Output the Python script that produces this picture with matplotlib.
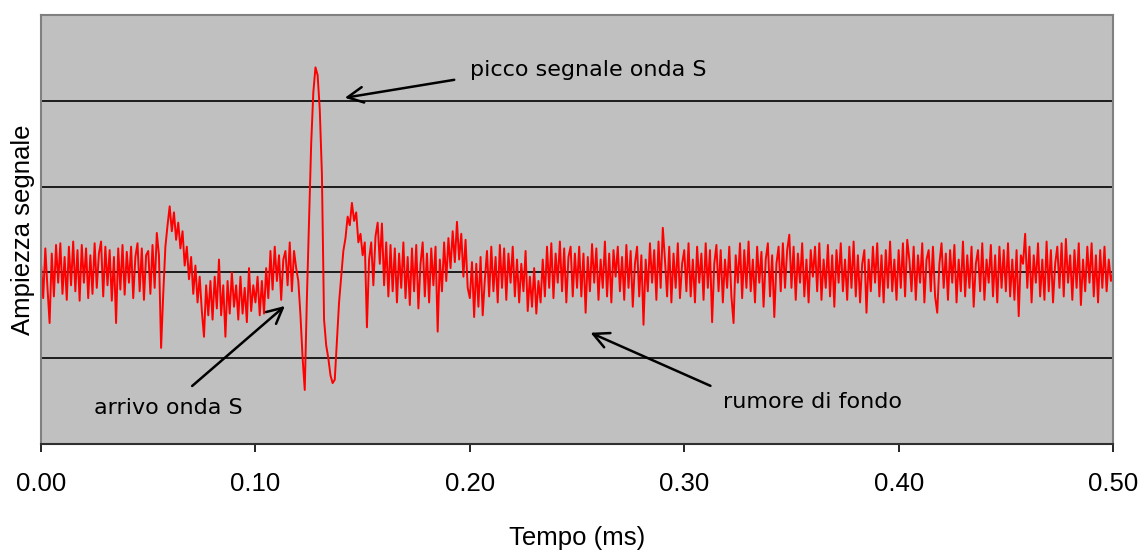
import numpy as np
import matplotlib
matplotlib.use("Agg")
import matplotlib.pyplot as plt

# signal samples, one every 0.001 ms, amplitude in hundredths of a grid step
step_ms = 0.001
noise_start = [10, -30, 28, -18, -59, 22, -28, 32, -12, 34, -25, 18, -32, 30, -15, 36, -22, 26, -33, 32,
               -12, 28, -30, 20, -25, 34, -18, 22, 36, -28, 30, -15, 26, -33, 18, -59, 28, -20, 32, -26,
               24, -12, 30, -30, 18, 34, -22, 28, -32, 20]
p_wave = [25, -25, 32, -18, 46, 20, -88, -25, 30, 55, 77, 48, 70, 38, 58, 28, 48, 8, 30, -8,
          18, -25, 8, -35, -5, -45, -75, -15, -50, -10, -55, -5, -42, 15, -50, -15, -75, -10, -48, 0,
          -40, -15, -55, -5, -48, -18, -58, 5, -45, -15]
s_wave = [-35, -5, -50, -10, -48, 5, -30, 25, -20, 30, -10, 20, -32, 15, 25, -15, 35, -22, 25, 5,
          -10, -50, -100, -137, -30, 60, 150, 210, 239, 230, 190, 115, -55, -85, -100, -120, -129, -125, -80, -35,
          -5, 25, 40, 65, 55, 81, 60, 70, 35, 45]
coda_1 = [20, 35, -64, 15, 35, -15, 42, 58, 10, 57, -15, 35, -28, 32, -22, 28, -35, 22, -18, 35,
          -30, 18, -38, 28, -22, 32, -42, 10, 35, -28, 22, -35, 28, -15, 30, -69, 15, -22, 35, -10,
          40, 5, 48, 12, 59, 15, 45, -5, 38, -18]
coda_2 = [-30, 12, -52, 10, -40, 18, -50, -8, 25, -28, 30, -22, 18, -35, 32, -18, 28, -32, 22, -12,
          30, -28, 15, -35, 10, -22, 25, -45, -5, -40, 5, -48, -10, -35, 15, -28, 30, -18, 34, -30,
          22, -12, 36, -22, 28, -35, 18, 30, -28, 22]
noise_1 = [-18, 30, -28, 22, -47, 18, -22, 33, -12, 28, -32, 15, -18, 36, -28, 22, -35, 26, -5, 30,
           -22, 18, -32, 32, -18, 25, -40, 10, 30, -28, 20, -61, 15, -22, 34, -12, 26, -32, 36, -18,
           52, 15, -28, 30, -35, 22, -18, 34, -30, 10]
noise_2 = [26, -22, 34, -28, 15, -35, 30, -12, 22, -32, 34, -18, 26, -58, 10, 32, -22, 26, -35, 15,
           -18, 30, -28, -59, 20, -12, 34, -30, 26, -18, 36, -22, 15, -35, 30, -12, 24, -40, 15, 34,
           -28, 20, -52, 10, 30, -22, 34, -18, 26, 44]
noise_3 = [-18, 30, -32, 22, -12, 34, -28, 15, -35, 26, -5, 30, -22, 34, -32, 15, -18, 32, -28, 20,
           -40, 26, -12, 34, -22, 15, -32, 30, -18, 36, -28, 20, -35, 10, 26, -47, 15, -22, 30, -12,
           34, -28, 20, -35, 26, -18, 36, -22, 15, -32]
noise_4 = [26, -18, 34, -28, 38, 15, -22, 30, -32, 20, -12, 34, -35, 15, 26, -22, 30, -28, -47, 10,
           34, -18, 22, -32, 26, -12, 32, -35, 15, -22, 36, -28, 20, -18, 30, -40, 10, 26, -22, 34,
           -32, 15, -12, 32, -28, 20, -35, 30, -18, 26]
noise_5 = [-22, 34, -28, 15, -32, 26, -51, 20, 10, 45, -18, 30, -35, 20, -12, 34, -28, 15, -32, 36,
           -22, 26, -35, 10, 30, -18, 34, -28, 39, -12, 20, -32, 26, -18, 34, -38, 15, -22, 30, -12,
           34, -28, 20, -35, 26, -18, 30, -22, 15, -10, 0]

x_ticks = [0.0, 0.1, 0.2, 0.3, 0.4, 0.5]
grid_levels = [-1, 0, 1, 2]


def main():
    amp = np.array(noise_start + p_wave + s_wave + coda_1 + coda_2
                   + noise_1 + noise_2 + noise_3 + noise_4 + noise_5) / 100.0
    t = np.arange(len(amp)) * step_ms

    fig = plt.figure(figsize=(11.43, 5.5), dpi=100)
    ax = fig.add_axes([0.0359, 0.1927, 0.9379, 0.78])
    ax.set_facecolor("#c0c0c0")

    for lev in grid_levels:
        ax.axhline(lev, color="black", lw=1.2, zorder=1)

    ax.plot(t, amp, color="#ff0000", lw=1.4, zorder=2)

    ax.set_xlim(0, 0.5)
    ax.set_ylim(-2, 3)
    ax.set_xticks(x_ticks)
    ax.set_xticklabels([f"{v:.2f}" for v in x_ticks], fontsize=18.5, family="Liberation Sans")
    ax.set_yticks([])
    ax.tick_params(axis="x", direction="out", length=6, width=1.2, pad=14)

    for side in ["top", "right", "left"]:
        ax.spines[side].set_color("#808080")
        ax.spines[side].set_linewidth(1.5)
    ax.spines["bottom"].set_color("#303030")
    ax.spines["bottom"].set_linewidth(1.5)

    ax.set_xlabel("Tempo (ms)", fontsize=18.5, family="Liberation Sans", labelpad=22)
    ax.set_ylabel("Ampiezza segnale", fontsize=18.5, family="Liberation Sans", labelpad=4)

    arrow = dict(arrowstyle="->", color="black", lw=1.8, mutation_scale=28)
    font = dict(fontsize=16, family="DejaVu Sans", va="center", ha="left")
    ax.annotate("", xy=(0.1404, 2.03), xytext=(0.194, 2.25), arrowprops=arrow)
    ax.text(0.200, 2.36, "picco segnale onda S", **font)
    ax.annotate("", xy=(0.1147, -0.37), xytext=(0.0695, -1.345), arrowprops=arrow)
    ax.text(0.0245, -1.58, "arrivo onda S", **font)
    ax.annotate("", xy=(0.2551, -0.69), xytext=(0.3134, -1.335), arrowprops=arrow)
    ax.text(0.318, -1.51, "rumore di fondo", **font)

    fig.savefig("out.png", dpi=100)


if __name__ == "__main__":
    main()
